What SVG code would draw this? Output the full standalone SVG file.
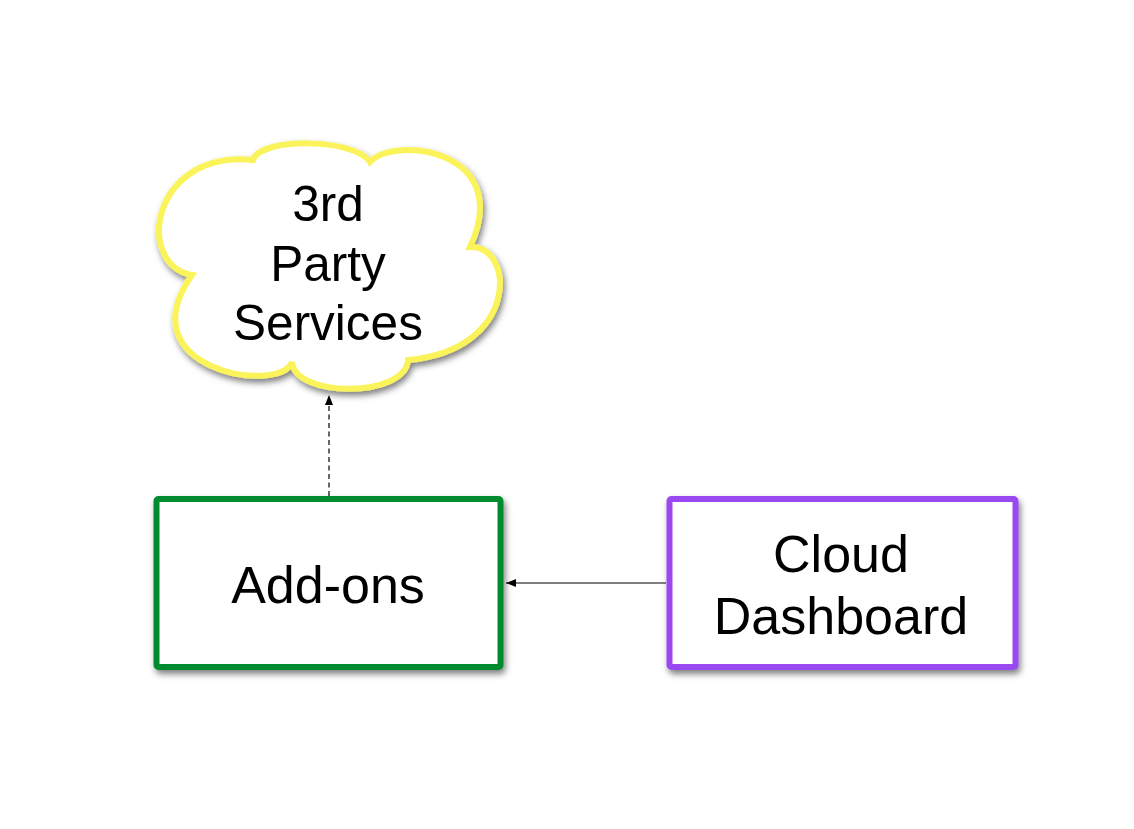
<svg xmlns="http://www.w3.org/2000/svg" width="1134" height="829" viewBox="0 0 1134 829">
  <defs>
    <filter id="shadow" x="-10%" y="-10%" width="130%" height="130%">
      <feDropShadow dx="2" dy="4" stdDeviation="3" flood-color="#000" flood-opacity="0.5"/>
    </filter>
    <marker id="arrow" viewBox="0 0 10 10" refX="10" refY="5" markerWidth="10" markerHeight="10" markerUnits="userSpaceOnUse" orient="auto">
      <path d="M0,1 L10,5 L0,9 Z" fill="#000"/>
    </marker>
  </defs>
  <style>
    .label { font-family: "Liberation Sans", Arial, sans-serif; font-size: 52px; fill: #000; text-anchor: middle; }
    .cloudlabel { font-size: 49.5px; }
    .node { fill: #fff; stroke-width: 6; filter: url(#shadow); }
    .conn { stroke: #000; stroke-width: 1.2; fill: none; marker-end: url(#arrow); }
  </style>
  <rect width="1134" height="829" fill="#fff"/>

  <g id="connectors">
    <line class="conn" x1="329" y1="496" x2="329" y2="395" stroke-dasharray="5,3.5"/>
    <line class="conn" x1="666" y1="583" x2="506" y2="583"/>
  </g>

  <g id="third-party-services">
    <path class="node" stroke="#FAF45A" stroke-linejoin="miter" d="M253,160 C260,137 355,138 370,162 C395,135 515,150 470,247 C515,245 520,350 408,360 C405,398 295,398 292,362 C280,395 125,370 192,275 C135,265 150,150 253,160 Z"/>
    <text class="label cloudlabel" x="328" y="221">3rd</text>
    <text class="label cloudlabel" x="328" y="281">Party</text>
    <text class="label cloudlabel" x="328" y="340">Services</text>
  </g>

  <g id="add-ons">
    <rect class="node" stroke="#008C2E" x="156.5" y="499" width="344" height="168" rx="2"/>
    <text class="label" x="328" y="603">Add-ons</text>
  </g>

  <g id="cloud-dashboard">
    <rect class="node" stroke="#9A48F0" x="669.5" y="499" width="346" height="168" rx="2"/>
    <text class="label" x="841" y="572">Cloud</text>
    <text class="label" x="841" y="634">Dashboard</text>
  </g>
</svg>
